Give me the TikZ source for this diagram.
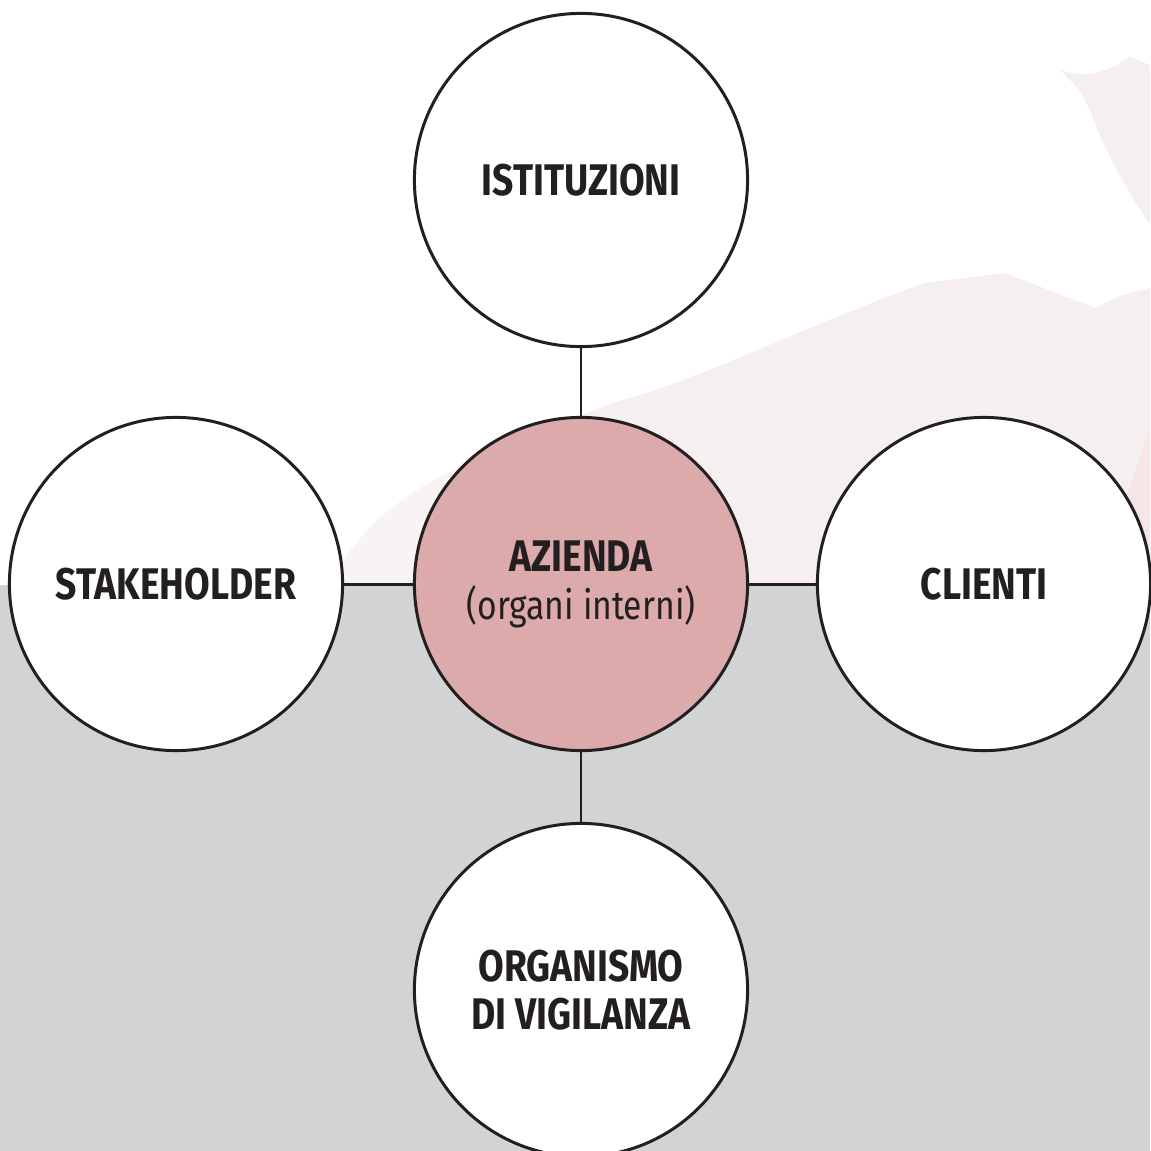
\documentclass[tikz,border=0pt]{standalone}
\usepackage{fontspec}
\setmainfont{Fira Sans}[FakeStretch=0.84]
\definecolor{sfondo}{RGB}{209,211,212}
\definecolor{rosa}{RGB}{220,170,170}
\definecolor{velo}{RGB}{246,239,239}
\definecolor{tratto}{RGB}{35,31,32}
\tikzset{
  ente/.style={draw=tratto,circle,line width=0.85pt,minimum size=3.33cm,fill=white,
    text=tratto,align=center,font=\fontsize{12.6}{13.6}\selectfont\bfseries},
  legame/.style={-,draw=tratto,line width=0.85pt}
}
\begin{document}
\begin{tikzpicture}[x=0.01cm,y=-0.01cm]
    \useasboundingbox (0,0) rectangle (1150,1151);

    % sfondo
    \fill[sfondo] (0,585) rectangle (1150,1151);
    \fill[velo!70!white] (330,585) .. controls (360,520) and (420,480) .. (500,450)
        -- (560,585) -- cycle;
    \fill[velo] (480,585) .. controls (480,480) and (540,420) .. (640,395)
        .. controls (720,370) and (820,320) .. (925,283)
        -- (1005,273) -- (1095,308) .. controls (1120,295) .. (1150,288)
        -- (1150,585) -- cycle;
    \fill[velo] (1060,70) .. controls (1090,80) and (1110,70) .. (1130,57)
        -- (1150,65) -- (1150,225)
        .. controls (1120,180) and (1100,140) .. (1090,110)
        .. controls (1080,90) .. (1060,70) -- cycle;
    \fill[rosa!30] (1150,430) -- (1125,500) -- (1130,585) -- (1150,585) -- cycle;

    % cerchi
    \node (azienda) at (581,584) [ente,fill=rosa] {AZIENDA\\{\mdseries\fontsize{11.4}{13.6}\selectfont (organi interni)}};
    \node (istituzioni) at (581,180) [ente] {ISTITUZIONI};
    \node (stakeholder) at (176,584) [ente] {STAKEHOLDER};
    \node (clienti) at (984,584) [ente] {CLIENTI};
    \node (organismo) at (581,990) [ente] {ORGANISMO\\DI VIGILANZA};

    \draw[legame] (istituzioni) to (azienda);
    \draw[legame] (stakeholder) to (azienda);
    \draw[legame] (azienda) to (clienti);
    \draw[legame] (azienda) to (organismo);

\end{tikzpicture}
\end{document}
